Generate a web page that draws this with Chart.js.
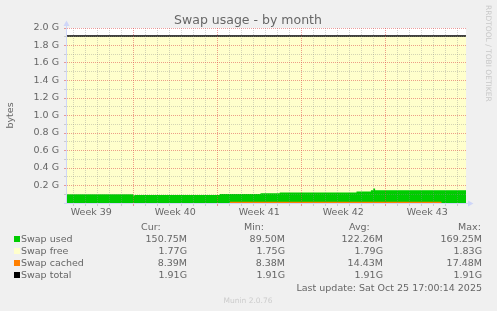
<!DOCTYPE html>
<html>
<head>
<meta charset="utf-8">
<script src="https://cdn.jsdelivr.net/npm/chart.js@4.4.1/dist/chart.umd.min.js"></script>
<style>
  body { margin: 0; background: #f0f0f0; }
  canvas { display: block; }
</style>
</head>
<body>
<canvas id="swapChart" width="497" height="311"></canvas>
<script>
// time axis is in days; day 7, 14, 21, 28 are the week boundaries (Mondays)
const xStart = 1.475;
const xEnd = 34.725;
const weekLabels = ['Week 39', 'Week 40', 'Week 41', 'Week 42', 'Week 43'];
const weekCenters = [3.5, 10.5, 17.5, 24.5, 31.5];
const yTickValues = [0.2, 0.4, 0.6, 0.8, 1.0, 1.2, 1.4, 1.6, 1.8, 2.0];
const yTickLabels = ['0.2 G', '0.4 G', '0.6 G', '0.8 G', '1.0 G', '1.2 G', '1.4 G', '1.6 G', '1.8 G', '2.0 G'];

// swap used (MB), each value holds until the next time
const usedDays = [1.475, 6.975, 7.15, 14.2, 17.6, 19.2, 25.6, 26.8, 27.0, 27.15, 34.725];
const usedMB = [102, 89.5, 95, 104, 113, 124, 134, 150, 169, 149, 150.75];

// swap cached (MB)
const cachedDays = [15.05, 21.0, 32.7];
const cachedMB = [14, 16, 16];

// swap total (GB)
const totalGB = 1.91;

// legend table
const seriesNames = ['Swap used', 'Swap free', 'Swap cached', 'Swap total'];
const curValues = ['150.75M', '1.77G', '8.39M', '1.91G'];
const minValues = ['89.50M', '1.75G', '8.38M', '1.91G'];
const avgValues = ['122.26M', '1.79G', '14.43M', '1.91G'];
const maxValues = ['169.25M', '1.83G', '17.48M', '1.91G'];
const seriesColors = ['#00cc00', '#ffffcc', '#ff8000', '#000000'];

const FONT = '"DejaVu Sans", sans-serif';
const gridMinor = 'rgba(143,143,143,0.38)';
const gridMajor = 'rgba(222,79,79,0.55)';
const axisColor = '#cfd6f8';

function toGB(mb) { return mb / 1024; }

// draws background, axes, arrows, title, legend table and footer
const muninPlugin = {
    id: 'munin',
    beforeDraw(chart) {
        const ctx = chart.ctx;
        const a = chart.chartArea;
        ctx.save();
        ctx.fillStyle = '#f0f0f0';
        ctx.fillRect(0, 0, chart.width, chart.height);
        ctx.fillStyle = '#ffffff';
        ctx.fillRect(a.left, a.top, a.right - a.left, a.bottom - a.top);
        ctx.restore();
    },
    afterDraw(chart) {
        const ctx = chart.ctx;
        const a = chart.chartArea;
        ctx.save();

        // axes with arrows
        ctx.fillStyle = axisColor;
        ctx.fillRect(a.left - 1, a.top - 5, 1, a.bottom - a.top + 6);
        ctx.fillRect(a.left - 3, a.bottom, a.right - a.left + 5, 1);
        ctx.beginPath();
        ctx.moveTo(a.left - 3.5, a.top - 2);
        ctx.lineTo(a.left + 2.5, a.top - 2);
        ctx.lineTo(a.left - 0.5, a.top - 7.5);
        ctx.closePath();
        ctx.fill();
        ctx.beginPath();
        ctx.moveTo(a.right + 2, a.bottom - 2.5);
        ctx.lineTo(a.right + 2, a.bottom + 3.5);
        ctx.lineTo(a.right + 7.5, a.bottom + 0.5);
        ctx.closePath();
        ctx.fill();

        // title
        ctx.fillStyle = '#666666';
        ctx.font = '12.5px ' + FONT;
        ctx.textAlign = 'center';
        ctx.textBaseline = 'alphabetic';
        ctx.fillText('Swap usage - by month', 248, 23.5);

        // y axis label
        ctx.save();
        ctx.font = '9.5px ' + FONT;
        ctx.translate(10.5, (a.top + a.bottom) / 2);
        ctx.rotate(-Math.PI / 2);
        ctx.textBaseline = 'middle';
        ctx.fillText('bytes', 0, 0);
        ctx.restore();

        // watermark
        ctx.save();
        ctx.fillStyle = '#c8c8c8';
        ctx.font = '7.5px ' + FONT;
        ctx.translate(488, 5);
        ctx.rotate(Math.PI / 2);
        ctx.textAlign = 'left';
        ctx.textBaseline = 'middle';
        ctx.fillText('RRDTOOL / TOBI OETIKER', 0, 0);
        ctx.restore();

        // legend table
        ctx.font = '9.5px ' + FONT;
        ctx.fillStyle = '#666666';
        ctx.textAlign = 'left';
        ctx.fillText('Cur:', 141, 230);
        ctx.fillText('Min:', 244, 230);
        ctx.fillText('Avg:', 349, 230);
        ctx.fillText('Max:', 458, 230);
        for (let i = 0; i < seriesNames.length; i++) {
            const y = 242 + i * 12;
            ctx.fillStyle = seriesColors[i];
            ctx.fillRect(14, y - 6, 6, 6);
            ctx.fillStyle = '#666666';
            ctx.textAlign = 'left';
            ctx.fillText(seriesNames[i], 21, y);
            ctx.textAlign = 'right';
            ctx.fillText(curValues[i], 187, y);
            ctx.fillText(minValues[i], 285, y);
            ctx.fillText(avgValues[i], 383, y);
            ctx.fillText(maxValues[i], 482, y);
        }
        ctx.textAlign = 'right';
        ctx.fillText('Last update: Sat Oct 25 17:00:14 2025', 482, 291);

        ctx.fillStyle = '#cccccc';
        ctx.font = '7.5px ' + FONT;
        ctx.textAlign = 'center';
        ctx.fillText('Munin 2.0.76', 248, 302.5);
        ctx.restore();
    }
};

// x ticks: every day for the grid, plus the middle of each week for labels
const xTicks = [];
for (let d = Math.ceil(xStart); d <= xEnd; d++) xTicks.push(d);
weekCenters.forEach(c => xTicks.push(c));
xTicks.sort((p, q) => p - q);

const yTicks = [];
for (let k = 0; k <= 20; k++) yTicks.push(k / 10);

function xGridColor(ctx) {
    const v = ctx.tick ? ctx.tick.value : 0;
    if (v % 1 !== 0) return 'rgba(0,0,0,0)';
    return v % 7 === 0 ? gridMajor : gridMinor;
}

function yGridColor(ctx) {
    const k = ctx.tick ? Math.round(ctx.tick.value * 10) : 0;
    if (k === 0) return 'rgba(0,0,0,0)';
    return k % 2 === 0 ? gridMajor : gridMinor;
}

const ctx = document.getElementById('swapChart').getContext('2d');
new Chart(ctx, {
    type: 'line',
    data: {
        datasets: [
            {
                label: 'Swap cached',
                data: cachedDays.map((d, i) => ({ x: d, y: toGB(cachedMB[i]) })),
                stepped: true,
                fill: 'origin',
                backgroundColor: '#ff8000',
                borderWidth: 0,
                pointRadius: 0
            },
            {
                label: 'Swap used',
                data: usedDays.map((d, i) => ({ x: d, y: toGB(usedMB[i]) })),
                stepped: true,
                fill: 'origin',
                backgroundColor: '#00cc00',
                borderWidth: 0,
                pointRadius: 0
            },
            {
                label: 'Swap total',
                data: [{ x: xStart, y: totalGB }, { x: xEnd, y: totalGB }],
                fill: false,
                borderColor: '#000000',
                borderWidth: 1.5,
                pointRadius: 0
            },
            {
                label: 'Swap free',
                data: [{ x: xStart, y: totalGB }, { x: xEnd, y: totalGB }],
                fill: 'origin',
                backgroundColor: '#ffffcc',
                borderWidth: 0,
                pointRadius: 0
            }
        ]
    },
    options: {
        responsive: false,
        animation: false,
        devicePixelRatio: 1,
        layout: { padding: { top: 28, right: 31, left: 0, bottom: 0 } },
        plugins: {
            legend: { display: false },
            tooltip: { enabled: false },
            title: { display: false }
        },
        scales: {
            x: {
                type: 'linear',
                min: xStart,
                max: xEnd,
                afterFit: scale => { scale.height = 108; },
                afterBuildTicks: scale => { scale.ticks = xTicks.map(v => ({ value: v })); },
                grid: { z: 1, color: xGridColor, tickColor: xGridColor, tickLength: 3, lineWidth: 1 },
                border: { display: false, dash: [1, 1] },
                ticks: {
                    autoSkip: false,
                    maxRotation: 0,
                    padding: 1,
                    color: '#666666',
                    font: { family: FONT, size: 9.5 },
                    callback: value => {
                        const i = weekCenters.indexOf(value);
                        return i >= 0 ? weekLabels[i] : '';
                    }
                }
            },
            y: {
                min: 0,
                max: 2,
                afterFit: scale => { scale.width = 67; },
                afterBuildTicks: scale => { scale.ticks = yTicks.map(v => ({ value: v })); },
                grid: { z: 1, color: yGridColor, tickColor: yGridColor, tickLength: 3, lineWidth: 1 },
                border: { display: false, dash: [1, 1] },
                ticks: {
                    autoSkip: false,
                    padding: 5,
                    color: '#666666',
                    font: { family: FONT, size: 9.5 },
                    callback: value => {
                        const i = yTickValues.findIndex(t => Math.abs(t - value) < 1e-6);
                        return i >= 0 ? yTickLabels[i] : '';
                    }
                }
            }
        }
    },
    plugins: [muninPlugin]
});
</script>
</body>
</html>
